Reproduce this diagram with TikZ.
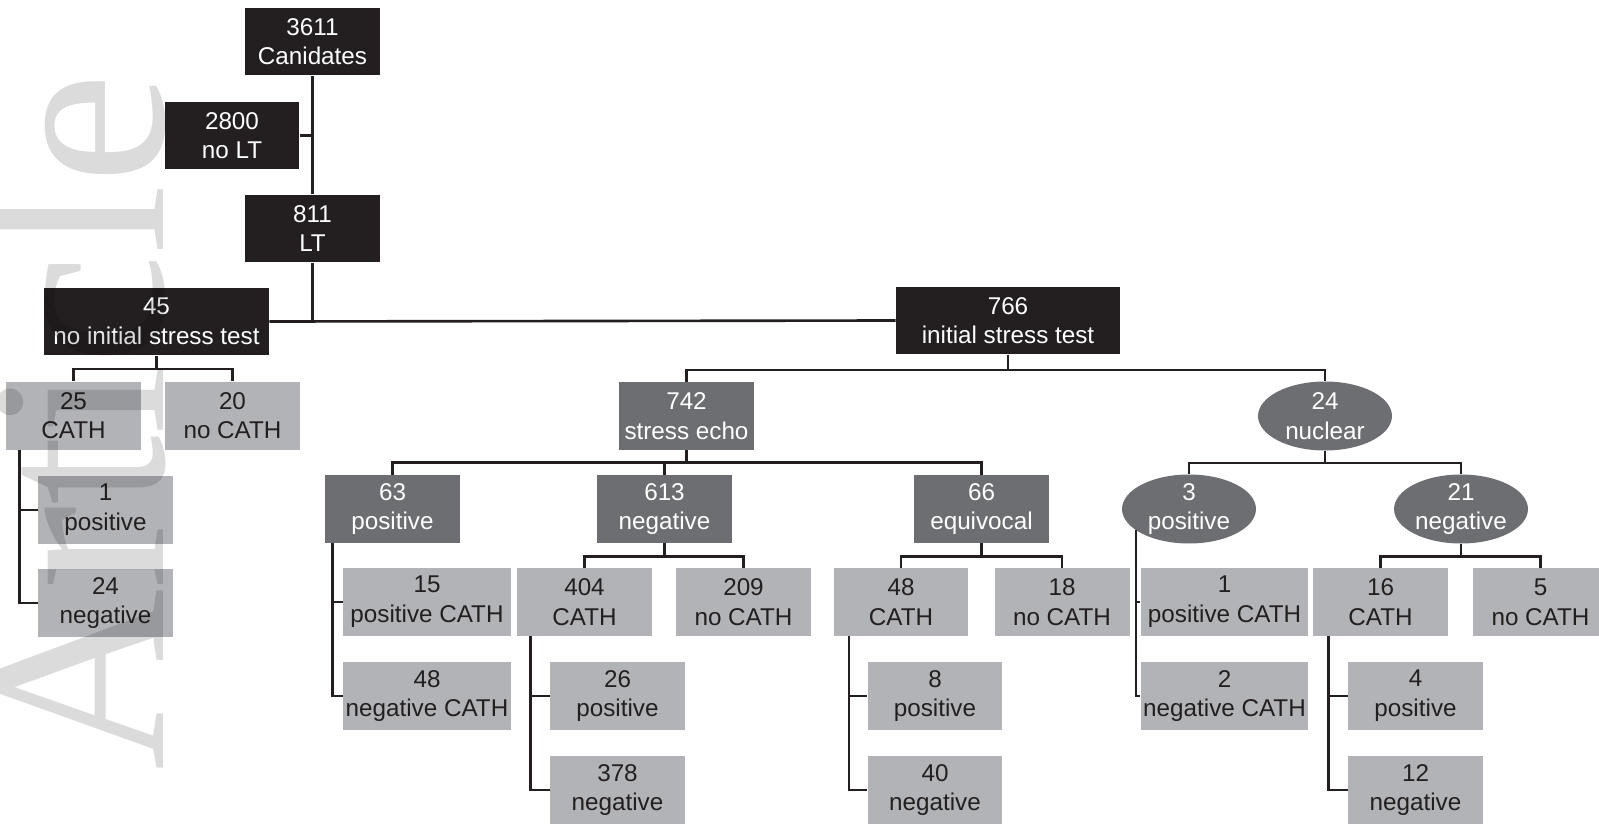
\documentclass[tikz,border=0pt]{standalone}
\usepackage{fontspec}
\setmainfont{Liberation Sans}
\newfontfamily\wmfont{Liberation Serif}
\usetikzlibrary{shapes.geometric}

\definecolor{boxblack}{HTML}{231F20}
\definecolor{boxdark}{HTML}{6D6E71}
\definecolor{boxlight}{HTML}{B1B3B6}
\definecolor{linecol}{HTML}{231F20}

\begin{document}
\begin{tikzpicture}[x=0.02cm, y=-0.02cm,
    box/.style={rectangle, inner sep=0pt, minimum width=2.7cm, minimum height=1.36cm,
        align=center, font=\fontsize{13.8}{16.9}\selectfont},
    wide/.style={minimum width=3.36cm},
    blackbox/.style={box, fill=boxblack, text=white},
    darkbox/.style={box, fill=boxdark, text=white},
    lightbox/.style={box, fill=boxlight, text=boxblack},
    oval/.style={ellipse, inner sep=0pt, minimum width=2.68cm, minimum height=1.38cm, fill=boxdark},
    ovaltext/.style={text=white, align=center, font=\fontsize{13.8}{16.9}\selectfont},
    link/.style={draw=linecol, line width=1.5pt}]

    \useasboundingbox (0,0) rectangle (1599,825);

    % Top of the tree
    \node[blackbox] (cand) at (312.5,41.5) {3611\\Canidates};
    \node[blackbox] (nolt) at (232,135.5) {2800\\no LT};
    \node[blackbox] (lt) at (312.5,228.5) {811\\LT};
    \node[blackbox, minimum width=4.5cm] (nist) at (156.5,321.5) {45\\no initial stress test};
    \node[blackbox, minimum width=4.48cm] (ist) at (1008,320.5) {766\\initial stress test};

    % No initial stress test
    \node[lightbox] (cath) at (73.5,415.5) {25\\CATH};
    \node[lightbox] (nocath) at (232.5,415.5) {20\\no CATH};
    \node[lightbox] (cpos) at (105.5,510) {1\\positive};
    \node[lightbox] (cneg) at (105.5,603) {24\\negative};

    % Stress echo
    \node[darkbox] (echo) at (686.5,416) {742\\stress echo};
    \node[darkbox] (epos) at (392.5,509) {63\\positive};
    \node[darkbox] (eneg) at (664.5,509) {613\\negative};
    \node[darkbox] (equi) at (981.5,509) {66\\equivocal};
    \node[lightbox, wide] (pcath) at (427,602) {15\\positive CATH};
    \node[lightbox, wide] (ncath) at (427,696) {48\\negative CATH};
    \node[lightbox] (ecath) at (584.5,602) {404\\CATH};
    \node[lightbox] (enocath) at (743.5,602) {209\\no CATH};
    \node[lightbox] (ecpos) at (617.5,696) {26\\positive};
    \node[lightbox] (ecneg) at (617.5,790) {378\\negative};
    \node[lightbox] (qcath) at (901,602) {48\\CATH};
    \node[lightbox] (qnocath) at (1062,602) {18\\no CATH};
    \node[lightbox] (qcpos) at (935,696) {8\\positive};
    \node[lightbox] (qcneg) at (935,790) {40\\negative};

    % Nuclear
    \node[oval, label={[ovaltext]center:24\\nuclear}] (nuc) at (1325,416) {};
    \node[oval, label={[ovaltext]center:3\\positive}] (npos) at (1189,509) {};
    \node[oval, label={[ovaltext]center:21\\negative}] (nneg) at (1461,509) {};
    \node[lightbox, wide] (npcath) at (1224.5,602) {1\\positive CATH};
    \node[lightbox, wide] (nncath) at (1224.5,696) {2\\negative CATH};
    \node[lightbox] (ncath16) at (1380.5,602) {16\\CATH};
    \node[lightbox] (nnocath) at (1540.5,602) {5\\no CATH};
    \node[lightbox] (ncpos) at (1415.5,696) {4\\positive};
    \node[lightbox] (ncneg) at (1415.5,790) {12\\negative};

    % Connectors
    \draw[link] (cand.south) -- (lt.north);
    \draw[link] (nolt.east) -- (nolt.east -| cand.south);
    \draw[link] (nist.east) -- (ist.west);
    \draw[link] (lt.south) -- (lt.south |- nist.east);

    \draw[link] (nist.south) -- ++(0,13) -| (cath.north);
    \draw[link] (nist.south) -- ++(0,13) -| (nocath.north);
    \draw[link] (cath.south west) ++(14,0) |- (cpos.west);
    \draw[link] (cath.south west) ++(14,0) |- (cneg.west);

    \draw[link] (ist.south) -- ++(0,15) -| (echo.north);
    \draw[link] (ist.south) -- ++(0,15) -| (nuc.north);

    \draw[link] (echo.south) -- ++(0,12) -| (epos.north);
    \draw[link] (echo.south) -- ++(0,12) -| (eneg.north);
    \draw[link] (echo.south) -- ++(0,12) -| (equi.north);
    \draw[link] (epos.south west) ++(8,0) |- (pcath.west);
    \draw[link] (epos.south west) ++(8,0) |- (ncath.west);
    \draw[link] (eneg.south) -- ++(0,13) -| (ecath.north);
    \draw[link] (eneg.south) -- ++(0,13) -| (enocath.north);
    \draw[link] (ecath.south west) ++(14,0) |- (ecpos.west);
    \draw[link] (ecath.south west) ++(14,0) |- (ecneg.west);
    \draw[link] (equi.south) -- ++(0,13) -| (qcath.north);
    \draw[link] (equi.south) -- ++(0,13) -| (qnocath.north);
    \draw[link] (qcath.south west) ++(16,0) |- (qcpos.west);
    \draw[link] (qcath.south west) ++(16,0) |- (qcneg.west);

    \draw[link] (nuc.south) -- ++(0,12) -| (npos.north);
    \draw[link] (nuc.south) -- ++(0,12) -| (nneg.north);
    \draw[link] (npos.202) |- (npcath.west);
    \draw[link] (npos.202) |- (nncath.west);
    \draw[link] (nneg.south) -- ++(0,12.5) -| (ncath16.north);
    \draw[link] (nneg.south) -- ++(0,12.5) -| (nnocath.north);
    \draw[link] (ncath16.south west) ++(16,0) |- (ncpos.west);
    \draw[link] (ncath16.south west) ++(16,0) |- (ncneg.west);

    % Watermark
    \node[rotate=90, anchor=base west, inner sep=0pt, text=black, text opacity=0.14,
        font=\wmfont\fontsize{143}{143}\selectfont] (wm) at (163,771) {Article};
\end{tikzpicture}
\end{document}
